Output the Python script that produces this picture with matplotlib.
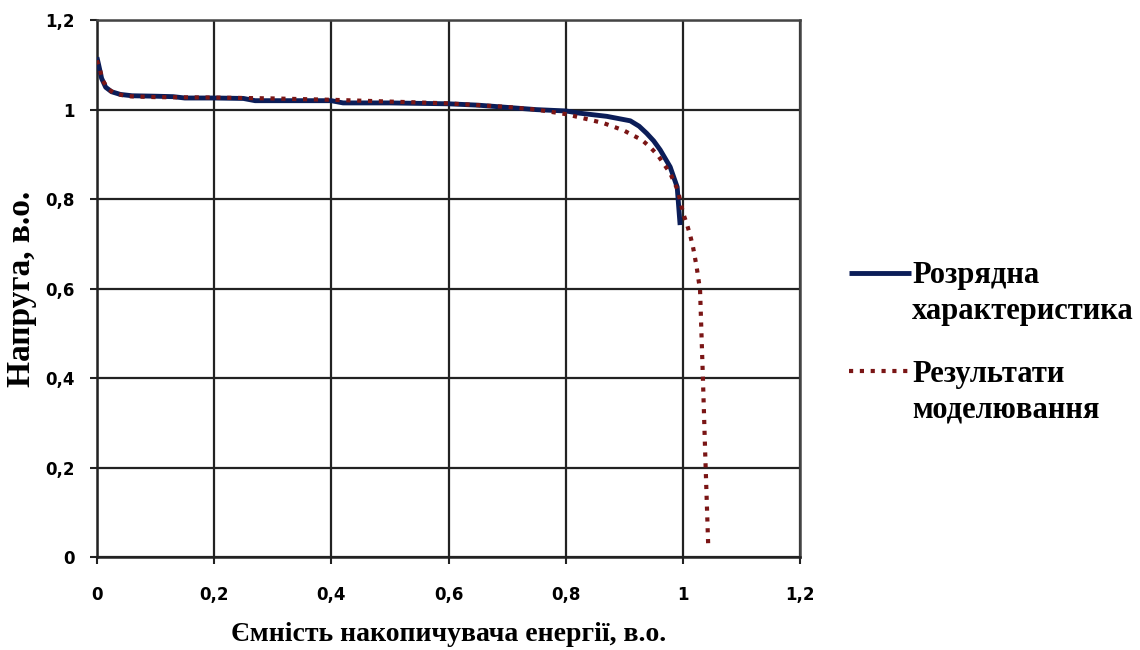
import numpy as np
import matplotlib.pyplot as plt

# discharge curve (measured)
x_meas = [0, 0.003, 0.008, 0.015, 0.025, 0.04, 0.06, 0.1, 0.13, 0.15, 0.2, 0.25,
          0.27, 0.3, 0.4, 0.42, 0.5, 0.6, 0.65, 0.7, 0.75, 0.8, 0.824, 0.87,
          0.91, 0.925, 0.938, 0.95, 0.961, 0.978, 0.99, 0.995]
u_meas = [1.117, 1.1, 1.07, 1.05, 1.04, 1.034, 1.031, 1.03, 1.029, 1.026, 1.026,
          1.025, 1.02, 1.02, 1.02, 1.015, 1.015, 1.013, 1.01, 1.005, 1.0, 0.997,
          0.992, 0.985, 0.975, 0.963, 0.947, 0.93, 0.91, 0.872, 0.827, 0.742]

# model results
x_model = [0, 0.005, 0.01, 0.02, 0.03, 0.05, 0.1, 0.2, 0.3, 0.4, 0.5, 0.6, 0.7,
           0.75, 0.8, 0.829, 0.864, 0.898, 0.93, 0.944, 0.957, 0.978, 0.991,
           1.0, 1.007, 1.012, 1.017, 1.023, 1.029, 1.034, 1.038, 1.043]
u_model = [1.11, 1.09, 1.065, 1.045, 1.037, 1.03, 1.028, 1.027, 1.025, 1.022,
           1.018, 1.014, 1.006, 1.0, 0.99, 0.981, 0.97, 0.954, 0.932, 0.916,
           0.898, 0.858, 0.82, 0.769, 0.742, 0.72, 0.693, 0.65, 0.597, 0.395,
           0.223, 0.022]

ticks = [0, 0.2, 0.4, 0.6, 0.8, 1.0, 1.2]
tick_labels = ['0', '0,2', '0,4', '0,6', '0,8', '1', '1,2']

fig = plt.figure(figsize=(11.4, 6.5), dpi=100)
ax = fig.add_axes([0.085, 0.143, 0.617, 0.826])

ax.plot(x_meas, u_meas, color='#0b1d58', lw=3.5, solid_capstyle='butt',
        label='Розрядна\nхарактеристика', zorder=3)
ax.plot(x_model, u_model, color='#7a1515', lw=3, linestyle=(0, (1, 1.6)),
        label='Результати\nмоделювання', zorder=4)

ax.set_xlim(0, 1.2)
ax.set_ylim(0, 1.2)
ax.set_xticks(ticks)
ax.set_xticklabels(tick_labels)
ax.set_yticks(ticks)
ax.set_yticklabels(tick_labels)
ax.grid(True, color='#222222', lw=1.6)
for s in ax.spines.values():
    s.set_color('#444444')
    s.set_linewidth(1.8)
ax.spines['left'].set_color('#222222')
ax.spines['bottom'].set_color('#222222')
ax.tick_params(direction='out', length=5, width=1.5, color='#222222')
ax.tick_params(axis='y', pad=11)
ax.tick_params(axis='x', pad=16)
for lab in ax.get_xticklabels() + ax.get_yticklabels():
    lab.set_fontfamily('DejaVu Sans')
    lab.set_fontweight('bold')
    lab.set_fontsize(12)

ax.set_xlabel('Ємність накопичувача енергії, в.о.', family='Liberation Serif',
              fontsize=20, fontweight='bold', labelpad=13)
ax.set_ylabel('Напруга, в.о.', family='Liberation Serif', fontsize=24,
              fontweight='bold', labelpad=6)

leg = fig.legend(loc='upper left', bbox_to_anchor=(0.721, 0.64), frameon=False,
                 prop={'family': 'Liberation Serif', 'size': 22, 'weight': 'bold'},
                 handlelength=2.0, handletextpad=0.05, labelspacing=1.1)
for t in leg.get_texts():
    t.set_linespacing(1.3)
# lift handles up to the first line of each label
for h in leg.legend_handles:
    h.set_ydata(np.asarray(h.get_ydata(), dtype=float) + 15)

fig.savefig('out.png', dpi=100)
